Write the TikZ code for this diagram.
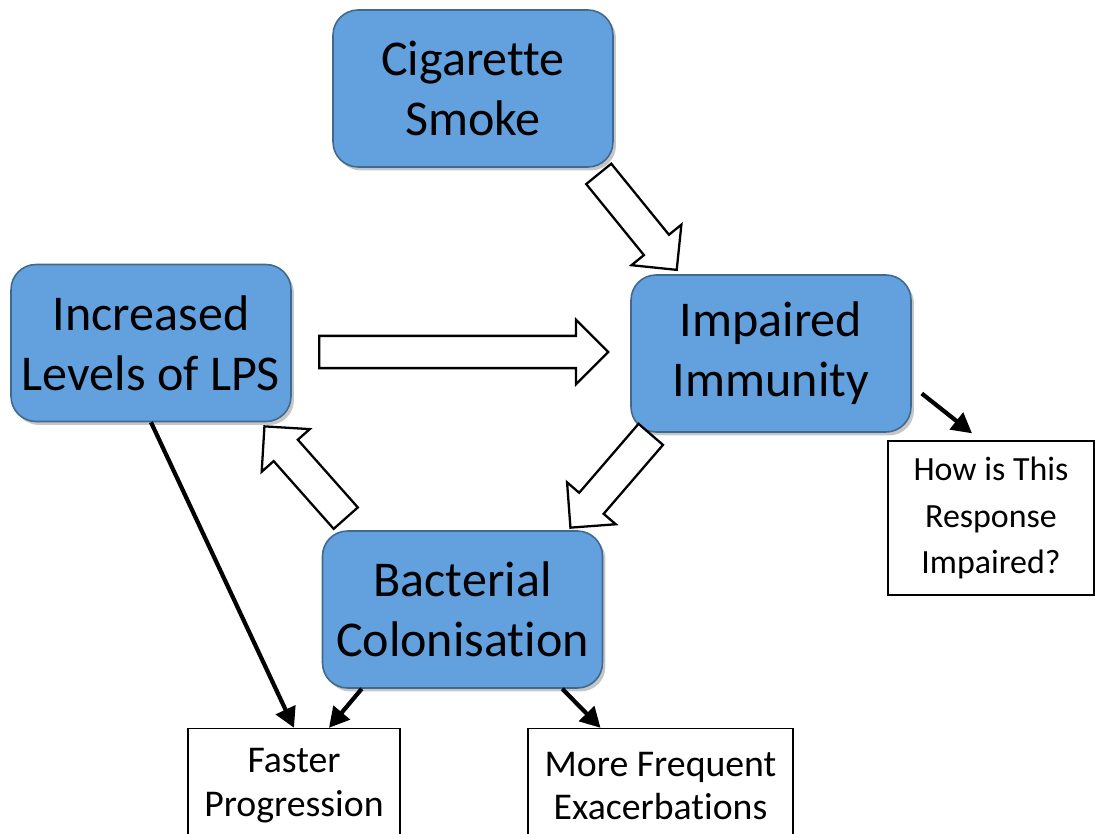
\documentclass[tikz,border=0pt]{standalone}
\usepackage{fontspec}
\setmainfont[Ligatures={NoCommon}]{Carlito}
\usepackage{tikz}
\usetikzlibrary{arrows.meta, positioning, calc, shapes.arrows, shadows}
\definecolor{boxblue}{RGB}{98,161,221}
\tikzstyle{arrow} = [line width=2.4pt,-{Triangle[length=4mm,width=4.2mm]}]
\tikzstyle{factor} = [rectangle, rounded corners=5mm, fill=boxblue, draw=boxblue!65!black, line width=0.9pt, minimum width=56mm, minimum height=31.4mm, align=center, font=\fontsize{28.5}{34}\selectfont, drop shadow={shadow xshift=0.6mm, shadow yshift=-0.7mm, opacity=0.45}]
\tikzstyle{outcome} = [rectangle, draw=black, line width=0.8pt, fill=white, align=center, font=\fontsize{21.5}{25}\selectfont]
\tikzset{
	bigarrow/.style = {single arrow, draw=black, line width=1.3pt, fill=white,
		inner xsep=0pt, inner ysep=3mm, single arrow head extend=3.2mm, anchor=tail}
}
% hollow block arrow from one coordinate to another
\newcommand\blockarrow[2]{%
	\path let \p1=(#1), \p2=(#2), \n1={atan2(\y2-\y1,\x2-\x1)}, \n2={veclen(\x2-\x1,\y2-\y1)} in
		node[bigarrow, minimum height=\n2, rotate=\n1] at (#1) {};%
}

\begin{document}
\begin{tikzpicture}[x=0.02cm, y=-0.02cm]
\clip (0,0) rectangle (1095,834);
%----------------------------------------------------------------------------
% Placement of the cycle nodes
\node (cigSmoke) [factor] at (473,88.5) {Cigarette\\Smoke};
\node (lpsLevels) [factor] at (151,343) {Increased\\Levels of LPS};
\node (impImmunity) [factor] at (771,353.5) {Impaired\\Immunity};
\node (bactColon) [factor] at (462.5,609.5) {Bacterial\\Colonisation};

% Outcomes
\node (howImpaired) [outcome, minimum width=41.2mm, minimum height=30.8mm, font=\fontsize{19.3}{26.7}\selectfont] at (991,518) {How is This\\Response\\Impaired?};
\node (fasterProg) [outcome, minimum width=42.4mm, minimum height=23mm] at (294,786) {Faster\\Progression};
\node (moreExac) [outcome, minimum width=53mm, minimum height=23mm] at (660.5,786) {More Frequent\\Exacerbations};

%----------------------------------------------------------------------------
% Block arrows round the cycle
\coordinate (smokeTail) at (598,173);
\coordinate (smokeTip) at (676,269);
\coordinate (lpsTail) at (318,352);
\coordinate (lpsTip) at (607,352);
\coordinate (immTail) at (651.5,433.5);
\coordinate (immTip) at (571,527);
\coordinate (bactTail) at (346.5,519);
\coordinate (bactTip) at (265,427);

\blockarrow{smokeTail}{smokeTip}
\blockarrow{lpsTail}{lpsTip}
\blockarrow{immTail}{immTip}
\blockarrow{bactTail}{bactTip}

%----------------------------------------------------------------------------
% Lines
\draw [arrow] (lpsLevels.south) -- (fasterProg.north);
\draw [arrow] ([xshift=8mm]bactColon.south west) -- ([xshift=7mm]fasterProg.north);
\draw [arrow] ([xshift=-8.2mm]bactColon.south east) -- ([xshift=-12mm]moreExac.north);
\draw [arrow] ([shift={(2mm,-8mm)}]impImmunity.east) -- ([shift={(-3.8mm,1.4mm)}]howImpaired.north);

\end{tikzpicture}
\end{document}
